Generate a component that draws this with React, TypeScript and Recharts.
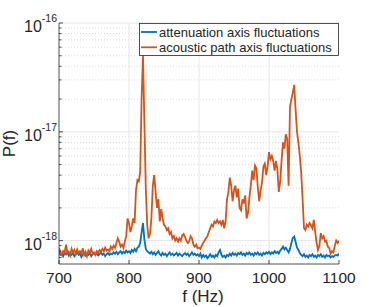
import React from "react";
import { LineChart, Line, XAxis, YAxis, CartesianGrid, Legend } from "recharts";

// frequency grid of the spectra (Hz)
const FREQ = [
  700, 702, 704, 706, 708, 710, 712, 714, 716, 718,
  720, 722, 724, 726, 728, 730, 732, 734, 736, 738,
  740, 742, 744, 746, 748, 750, 752, 754, 756, 758,
  760, 762, 764, 766, 768, 770, 772, 774, 776, 778,
  780, 782, 784, 786, 788, 790, 792, 794, 796, 798,
  800, 802, 804, 806, 808, 810, 812, 814, 816, 818,
  820, 822, 824, 826, 828, 830, 832, 834, 836, 838,
  840, 842, 844, 846, 848, 850, 852, 854, 856, 858,
  860, 862, 864, 866, 868, 870, 872, 874, 876, 878,
  880, 882, 884, 886, 888, 890, 892, 894, 896, 898,
  900, 902, 904, 906, 908, 910, 912, 914, 916, 918,
  920, 922, 924, 926, 928, 930, 932, 934, 936, 938,
  940, 942, 944, 946, 948, 950, 952, 954, 956, 958,
  960, 962, 964, 966, 968, 970, 972, 974, 976, 978,
  980, 982, 984, 986, 988, 990, 992, 994, 996, 998,
  1000, 1002, 1004, 1006, 1008, 1010, 1012, 1014, 1016, 1018,
  1020, 1022, 1024, 1026, 1028, 1030, 1032, 1034, 1036, 1038,
  1040, 1042, 1044, 1046, 1048, 1050, 1052, 1054, 1056, 1058,
  1060, 1062, 1064, 1066, 1068, 1070, 1072, 1074, 1076, 1078,
  1080, 1082, 1084, 1086, 1088, 1090, 1092, 1094, 1096, 1098,
  1100,
];

// P(f), in units of 1e-18
const ATTENUATION = [
  0.78, 0.74, 0.76, 0.72, 0.77, 0.75, 0.79, 0.73, 0.76, 0.74,
  0.77, 0.72, 0.75, 0.78, 0.74, 0.76, 0.71, 0.75, 0.77, 0.73,
  0.76, 0.74, 0.78, 0.72, 0.75, 0.77, 0.74, 0.76, 0.73, 0.75,
  0.78, 0.74, 0.76, 0.72, 0.75, 0.77, 0.74, 0.76, 0.75, 0.78,
  0.76, 0.79, 0.75, 0.78, 0.8, 0.76, 0.79, 0.77, 0.81, 0.78,
  0.8, 0.77, 0.82, 0.79, 0.84, 0.8, 0.86, 0.88, 0.95, 1.2,
  1.45, 1.02, 0.84, 0.8, 0.78, 0.76, 0.79, 0.75, 0.78, 0.74,
  0.77, 0.8, 0.75, 0.73, 0.77, 0.74, 0.76, 0.72, 0.75, 0.78,
  0.74, 0.76, 0.73, 0.75, 0.77, 0.73, 0.76, 0.74, 0.72, 0.75,
  0.77, 0.74, 0.76, 0.72, 0.75, 0.78, 0.74, 0.76, 0.73, 0.75,
  0.72, 0.76, 0.7, 0.74, 0.71, 0.73, 0.69, 0.72, 0.75, 0.71,
  0.73, 0.7, 0.74, 0.72, 0.78, 0.82, 0.74, 0.71, 0.73, 0.7,
  0.74, 0.72, 0.76, 0.73, 0.77, 0.74, 0.76, 0.73, 0.77, 0.75,
  0.78, 0.74, 0.76, 0.73, 0.77, 0.75, 0.78, 0.74, 0.76, 0.73,
  0.77, 0.75, 0.78, 0.74, 0.76, 0.73, 0.77, 0.75, 0.78, 0.76,
  0.79, 0.75, 0.78, 0.76, 0.8, 0.77, 0.79, 0.76, 0.81, 0.84,
  0.88, 0.83, 0.86, 0.82, 0.78, 0.84, 0.95, 1.06, 1.09, 0.97,
  0.86, 0.82, 0.77, 0.74, 0.72, 0.75, 0.71, 0.73, 0.7, 0.74,
  0.72, 0.75, 0.71, 0.73, 0.7, 0.74, 0.72, 0.75, 0.71, 0.73,
  0.7, 0.74, 0.72, 0.73, 0.7, 0.72, 0.71, 0.73, 0.74, 0.73,
  0.76,
];

// P(f), in units of 1e-18
const ACOUSTIC = [
  0.86, 0.78, 0.74, 0.8, 0.77, 0.92, 0.76, 0.79, 0.73, 0.84,
  0.78, 0.82, 0.75, 0.83, 0.77, 0.8, 0.76, 0.85, 0.74, 0.79,
  0.72, 0.81, 0.77, 0.84, 0.76, 0.78, 0.74, 0.8, 0.77, 0.82,
  0.79, 0.84, 0.8, 0.86, 0.81, 0.83, 0.8, 0.88, 0.84, 0.9,
  0.86, 0.95, 1.05, 0.98, 0.88, 0.92, 0.86, 0.98, 1.1, 1.6,
  1.45, 1.2, 1.35, 1.6, 1.45, 2.9, 3.6, 3.5, 4.3, 20,
  50, 12, 3.0, 1.4, 1.05, 1.15, 1.6, 3.2, 4.0, 2.8,
  2.0, 2.4, 1.5, 1.95, 1.6, 1.4, 1.35, 1.25, 1.3, 1.15,
  1.2, 1.05, 1.1, 1.0, 1.05, 0.98, 1.05, 1.0, 1.12, 1.15,
  1.08, 1.0, 0.95, 0.98, 1.1, 1.05, 0.92, 0.88, 0.92, 0.85,
  0.86, 0.84, 0.9, 0.95, 1.0, 1.05, 1.1, 1.2, 1.3, 1.4,
  1.35, 1.5, 1.45, 1.55, 1.45, 1.5, 1.4, 1.55, 1.3, 1.5,
  2.4, 2.8, 3.8, 3.2, 2.3, 2.9, 3.2, 2.5, 3.0, 2.0,
  1.9, 2.4, 2.2, 2.6, 1.6, 1.8, 2.5, 3.2, 4.4, 3.6,
  4.9, 4.6, 3.1, 2.3, 2.9, 3.4, 4.8, 5.1, 4.0, 4.8,
  6.5, 5.6, 6.0, 5.4, 4.4, 5.4, 4.5, 2.8, 3.5, 5.5,
  8.0, 7.0, 9.5, 8.6, 3.2, 17, 20, 23, 27, 16,
  10, 8, 6, 4.2, 2.4, 1.3, 1.25, 1.4, 1.35, 1.45,
  1.38, 1.3, 1.55, 1.2, 0.95, 0.82, 0.9, 1.17, 1.05, 1.1,
  0.98, 1.0, 0.88, 0.86, 0.76, 0.8, 0.78, 0.9, 1.0, 0.95,
  1.0,
];

const SERIES_NAMES = ["attenuation axis fluctuations", "acoustic path axis fluctuations"];
const X_TICKS = [700, 800, 900, 1000, 1100];
const X_GRID = [800, 900, 1000];
const Y_MAJOR = [1e-18, 1e-17, 1e-16];
const Y_MINOR = [
  7e-19, 8e-19, 9e-19,
  2e-18, 3e-18, 4e-18, 5e-18, 6e-18, 7e-18, 8e-18, 9e-18,
  2e-17, 3e-17, 4e-17, 5e-17, 6e-17, 7e-17, 8e-17, 9e-17,
];

const BLUE = "#0072BD";
const ORANGE = "#D95319";
const COLORS = [BLUE, ORANGE];
const AXIS = "#262626";
const FONT = "'Liberation Sans', Arial, Helvetica, sans-serif";

const rows = FREQ.map((f, i) => ({
  f,
  atten: ATTENUATION[i] * 1e-18,
  acoustic: ACOUSTIC[i] * 1e-18,
}));

const Y_TICKS = [...Y_MINOR, ...Y_MAJOR].sort((a, b) => a - b);
const isMajor = (v: number) => Y_MAJOR.some((m) => Math.abs(m - v) / m < 1e-6);

function BottomTick({ x, y, payload }: any) {
  return (
    <g>
      <line x1={x} y1={y} x2={x} y2={y - 4} stroke={AXIS} strokeWidth={0.8} />
      <text x={x} y={y + 18.5} textAnchor="middle" fontSize={15.5} fill={AXIS} fontFamily={FONT}>
        {payload.value}
      </text>
    </g>
  );
}

function TopTick({ x, y }: any) {
  return <line x1={x} y1={y} x2={x} y2={y + 4} stroke={AXIS} strokeWidth={0.8} />;
}

function LeftTick({ x, y, payload }: any) {
  const major = isMajor(payload.value);
  const len = major ? 4 : 2.5;
  const exp = Math.round(Math.log10(payload.value));
  return (
    <g>
      <line x1={x} y1={y} x2={x + len} y2={y} stroke={AXIS} strokeWidth={0.8} />
      {major && (
        <text x={x - 2} y={y + 9} textAnchor="end" fontSize={16} fill={AXIS} fontFamily={FONT}>
          <tspan>10</tspan>
          <tspan fontSize={10.5} dy={-10}>{exp}</tspan>
        </text>
      )}
    </g>
  );
}

function RightTick({ x, y, payload }: any) {
  const len = isMajor(payload.value) ? 4 : 2.5;
  return <line x1={x} y1={y} x2={x - len} y2={y} stroke={AXIS} strokeWidth={0.8} />;
}

const renderLegend = () => (
  <svg width={200} height={33} style={{ display: "block" }}>
    <rect x={0.5} y={0.5} width={199} height={32} fill="#fff" stroke={AXIS} strokeWidth={0.8} />
    {SERIES_NAMES.map((name, i) => {
      const cy = 9 + i * 15.3;
      return (
        <g key={name}>
          <line x1={2} x2={18} y1={cy} y2={cy} stroke={COLORS[i]} strokeWidth={1.8} />
          <text x={20} y={cy + 4.5} fontSize={13} fill={AXIS} fontFamily={FONT}>
            {name}
          </text>
        </g>
      );
    })}
  </svg>
);

export default function App() {
  return (
    <div style={{ position: "absolute", left: 0, top: 0, width: 374, height: 307, background: "#fff" }}>
      <LineChart width={374} height={307} data={rows} margin={{ top: 23, right: 35, bottom: 0, left: 0 }}>
        <CartesianGrid
          xAxisId="b"
          yAxisId="l"
          vertical={false}
          horizontalValues={Y_MINOR}
          stroke="#c8c8c8"
          strokeDasharray="1 2"
          strokeWidth={0.7}
        />
        <CartesianGrid
          xAxisId="b"
          yAxisId="l"
          horizontalValues={Y_MAJOR}
          verticalValues={X_GRID}
          stroke="#e6e6e6"
          strokeWidth={1}
        />
        <XAxis
          xAxisId="b"
          dataKey="f"
          type="number"
          domain={[700, 1100]}
          ticks={X_TICKS}
          interval={0}
          allowDataOverflow
          height={43}
          tickSize={0}
          tickMargin={0}
          tickLine={false}
          axisLine={{ stroke: AXIS, strokeWidth: 0.8 }}
          tick={(p: any) => <BottomTick {...p} />}
          label={{
            content: ({ viewBox }: any) => (
              <text
                x={(viewBox?.x ?? 59) + (viewBox?.width ?? 280) / 2 + 4}
                y={(viewBox?.y ?? 264) + 37.5}
                textAnchor="middle"
                fontSize={17}
                fill={AXIS}
                fontFamily={FONT}
              >
                f (Hz)
              </text>
            ),
          }}
        />
        <XAxis
          xAxisId="t"
          orientation="top"
          type="number"
          domain={[700, 1100]}
          ticks={X_TICKS}
          interval={0}
          allowDataOverflow
          height={0}
          tickSize={0}
          tickMargin={0}
          tickLine={false}
          axisLine={{ stroke: AXIS, strokeWidth: 0.8 }}
          tick={(p: any) => <TopTick {...p} />}
        />
        <YAxis
          yAxisId="l"
          type="number"
          scale="log"
          domain={[6.1e-19, 1e-16]}
          ticks={Y_TICKS}
          interval={0}
          allowDataOverflow
          width={59}
          tickSize={0}
          tickMargin={0}
          tickLine={false}
          axisLine={{ stroke: AXIS, strokeWidth: 0.8 }}
          tick={(p: any) => <LeftTick {...p} />}
          label={{
            content: ({ viewBox }: any) => {
              const cy = (viewBox?.y ?? 23) + (viewBox?.height ?? 241) / 2;
              return (
                <text
                  x={15}
                  y={cy}
                  transform={`rotate(-90, 15, ${cy})`}
                  textAnchor="middle"
                  fontSize={17}
                  fill={AXIS}
                  fontFamily={FONT}
                >
                  P(f)
                </text>
              );
            },
          }}
        />
        <YAxis
          yAxisId="r"
          orientation="right"
          type="number"
          scale="log"
          domain={[6.1e-19, 1e-16]}
          ticks={Y_TICKS}
          interval={0}
          allowDataOverflow
          width={0}
          tickSize={0}
          tickMargin={0}
          tickLine={false}
          axisLine={{ stroke: AXIS, strokeWidth: 0.8 }}
          tick={(p: any) => <RightTick {...p} />}
        />
        <Legend
          layout="horizontal"
          verticalAlign="middle"
          align="center"
          content={renderLegend}
          wrapperStyle={{ top: 23, left: 139, width: 200, height: 33 }}
        />
        <Line
          xAxisId="b"
          yAxisId="l"
          dataKey="atten"
          name={SERIES_NAMES[0]}
          type="linear"
          stroke={BLUE}
          strokeWidth={1.8}
          dot={false}
          isAnimationActive={false}
        />
        <Line
          xAxisId="b"
          yAxisId="l"
          dataKey="acoustic"
          name={SERIES_NAMES[1]}
          type="linear"
          stroke={ORANGE}
          strokeWidth={1.8}
          dot={false}
          isAnimationActive={false}
        />
      </LineChart>
    </div>
  );
}
